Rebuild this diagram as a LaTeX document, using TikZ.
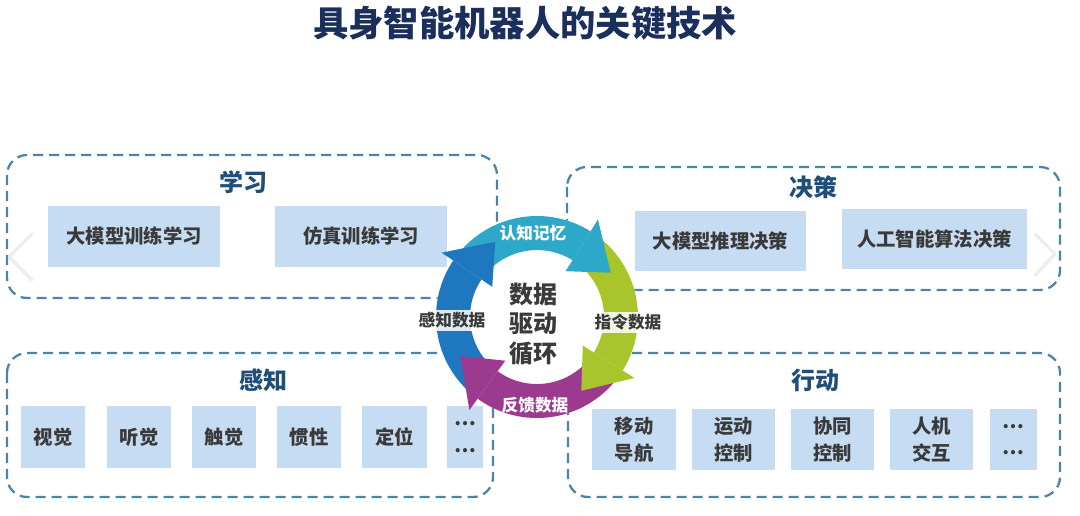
\documentclass[tikz,border=0pt]{standalone}
\usepackage{fontspec}
\setmainfont{Noto Sans CJK SC}
\definecolor{dashc}{HTML}{4A84A8}
\definecolor{boxc}{HTML}{C6DCF2}
\definecolor{txtc}{HTML}{3A3A3A}
\definecolor{sectc}{HTML}{1F4E79}
\definecolor{titlec}{HTML}{1B2F5C}
\definecolor{cteal}{HTML}{2EA8C8}
\definecolor{cgreen}{HTML}{A8C62B}
\definecolor{cpurple}{HTML}{9C3A90}
\definecolor{cblue}{HTML}{1E77BF}
\definecolor{chev}{HTML}{EDEDED}
\tikzset{
  dbox/.style={draw=dashc, line width=1.7pt, dash pattern=on 7.5pt off 4.5pt, rounded corners=15pt},
  ibox/.style={fill=boxc, inner sep=0pt, text=txtc, align=center, font=\bfseries\fontsize{14.5}{20}\selectfont},
  wh/.style 2 args={minimum width=#1*0.75pt, minimum height=#2*0.75pt},
  sect/.style={text=sectc, font=\bfseries\fontsize{18}{20}\selectfont, inner sep=0pt},
  rlab/.style={font=\bfseries\fontsize{12.5}{14}\selectfont, inner sep=0pt},
  rbg/.style={fill=white, fill opacity=0.85, text opacity=1, text=txtc, minimum width=70*0.75pt, minimum height=21*0.75pt},
  chevron/.style={draw=chev, line width=2.6pt, line cap=round, line join=round},
}
\begin{document}
\begin{tikzpicture}[x=0.75pt,y=-0.75pt]
\useasboundingbox (0,0) rectangle (1080,515);
% title
\node[text=titlec, font=\bfseries\fontsize{26.5}{30}\selectfont, inner sep=0pt] (title) at (525,23) {具身智能机器人的关键技术};
% dashed group frames
\draw[dbox] (7,155) rectangle (497,298);
\draw[dbox] (567,167) rectangle (1060,290);
\draw[dbox] (7,353) rectangle (493,497);
\draw[dbox] (568,353) rectangle (1060,497);
% carousel chevrons
\draw[chevron] (32,234) -- (9,257) -- (32,280);
\draw[chevron] (1035,234) -- (1055,254) -- (1035,275);
% section titles
\node[sect] (tlearn) at (243,182) {学习};
\node[sect] (tdec) at (813,187) {决策};
\node[sect] (tsense) at (263,380) {感知};
\node[sect] (tact) at (815,380) {行动};
% learning
\node[ibox, wh={172}{61}] (l1) at (134,236.5) {大模型训练学习};
\node[ibox, wh={172}{61}] (l2) at (361,236.5) {仿真训练学习};
% decision
\node[ibox, wh={171}{60}] (d1) at (720.5,241) {大模型推理决策};
\node[ibox, wh={185}{60}] (d2) at (934.5,239) {人工智能算法决策};
% perception
\node[ibox, wh={64}{62}] (s1) at (53,437) {视觉};
\node[ibox, wh={64}{62}] (s2) at (139,437) {听觉};
\node[ibox, wh={64}{62}] (s3) at (224,437) {触觉};
\node[ibox, wh={64}{62}] (s4) at (309,437) {惯性};
\node[ibox, wh={65}{62}] (s5) at (394.5,437) {定位};
\node[ibox, wh={36}{62}] (s6) at (465,437) {⋯\\⋯};
% action
\node[ibox, wh={84}{61}] (a1) at (634,439.5) {移动\\导航};
\node[ibox, wh={83}{61}] (a2) at (733.5,439.5) {运动\\控制};
\node[ibox, wh={83}{61}] (a3) at (832.5,439.5) {协同\\控制};
\node[ibox, wh={83}{61}] (a4) at (931.5,439.5) {人机\\交互};
\node[ibox, wh={47}{61}] (a5) at (1013.5,439.5) {⋯\\⋯};
% cycle
\begin{scope}[shift={(537,317)}]
  \fill[white] (0,0) circle[radius=101];
  % bodies
  \fill[cteal] (-140:101) arc[start angle=-140, end angle=-58, radius=101] -- (-58:67) arc[start angle=-58, end angle=-140, radius=67] -- cycle;
  \fill[cgreen] (-52:101) arc[start angle=-52, end angle=32, radius=101] -- (32:67) arc[start angle=32, end angle=-52, radius=67] -- cycle;
  \fill[cpurple] (38:101) arc[start angle=38, end angle=126, radius=101] -- (126:67) arc[start angle=126, end angle=38, radius=67] -- cycle;
  \fill[cblue] (132:101) arc[start angle=132, end angle=214, radius=101] -- (214:67) arc[start angle=214, end angle=132, radius=67] -- cycle;
  % heads
  \fill[cteal] (-58:115) -- (-31:86) -- (-58:54) -- cycle;
  \fill[cgreen] (32:115) -- (59:86) -- (32:54) -- cycle;
  \fill[cpurple] (126:115) -- (153:86) -- (126:54) -- cycle;
  \fill[cblue] (214:115) -- (241:86) -- (214:54) -- cycle;
\end{scope}
% ring labels
\node[rlab, text=white] (k1) at (533,233) {认知记忆};
\node[rlab, rbg] (k2) at (628,322) {指令数据};
\node[rlab, text=white] (k3) at (535,405) {反馈数据};
\node[rlab, rbg] (k4) at (452,320) {感知数据};
% centre text
\node[align=center, text=txtc, font=\bfseries\fontsize{18}{22}\selectfont, inner sep=0pt] (ctr) at (533,324) {数据\\驱动\\循环};
\end{tikzpicture}
\end{document}
